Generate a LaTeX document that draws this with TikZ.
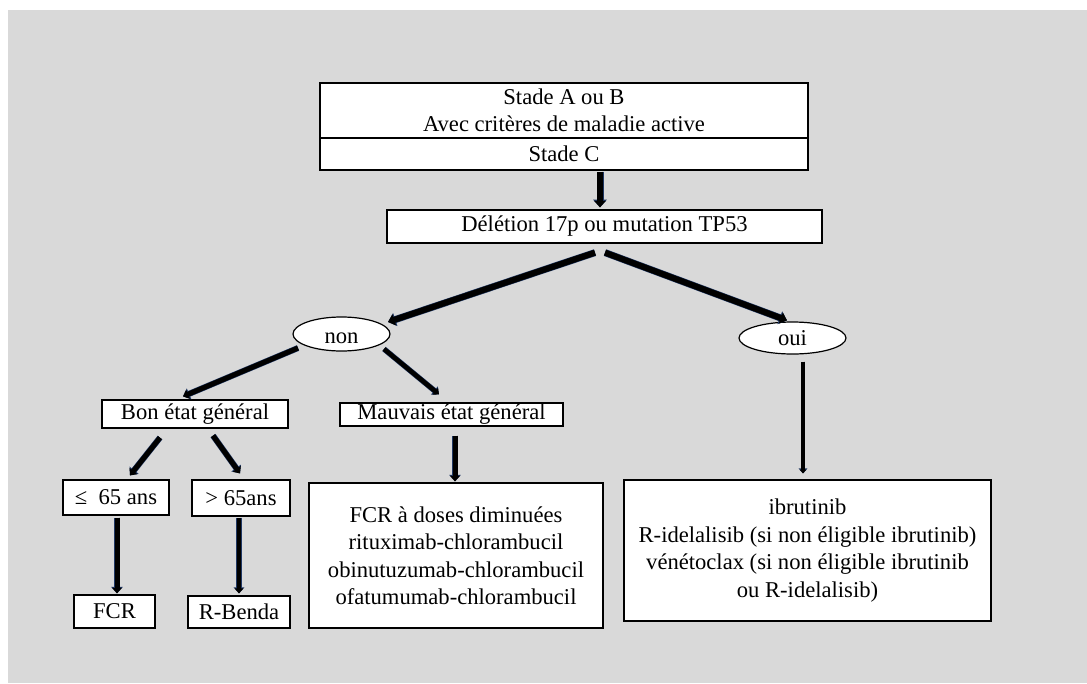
\documentclass[tikz,border=0pt]{standalone}
\usepackage{fontspec}
\setmainfont{Liberation Serif}
\usetikzlibrary{arrows.meta,shapes.geometric,calc}
\definecolor{bggray}{HTML}{D9D9D9}
\definecolor{edgeblue}{HTML}{203864}
\tikzset{
  box/.style={draw=black, line width=1.2pt, fill=white, rectangle, inner sep=0pt, align=center,
    font=\fontsize{22.6}{27.5}\selectfont},
  oval/.style={draw=black, line width=1.2pt, fill=white, ellipse, inner sep=0pt,
    font=\fontsize{22.6}{27.5}\selectfont},
  arr/.style={line width=#1, draw=black, -{Triangle[length=0pt 1.1, width=0pt 1.9]},
    preaction={draw=edgeblue, line width=#1+1pt, -{Triangle[length=0pt 1.1, width=0pt 1.9]}}}
}
\begin{document}
\begin{tikzpicture}[x=1pt,y=-1pt]
\fill[white] (0,0) rectangle (1087,683);
\fill[bggray] (8,10) rectangle (1087,683);
% top boxes
\node[box, minimum width=488pt, minimum height=55pt] (topA) at (564,110.5) {Stade A ou B\\Avec critères de maladie active};
\node[box, minimum width=488pt, minimum height=32pt] (topB) at (564,154) {Stade C};
\node[box, minimum width=435pt, minimum height=33pt] (del) at (604.5,226.5) {Délétion 17p ou mutation TP53};
\node[oval, minimum width=97pt, minimum height=34pt, text height=18pt, text depth=0pt] (non) at (341.5,334) {non};
\node[oval, minimum width=107pt, minimum height=32pt, text height=14pt, text depth=0pt] (oui) at (792.5,338) {oui};
\node[box, minimum width=186pt, minimum height=28pt] (bon) at (195,414) {Bon état général};
\node[box, minimum width=223pt, minimum height=23pt] (mauv) at (451.5,414.5) {Mauvais état général};
\node[box, minimum width=106pt, minimum height=35pt] (le65) at (116,497.5) {≤~ 65 ans};
\node[box, minimum width=98pt, minimum height=36pt] (gt65) at (241,498) {> 65ans};
\node[box, minimum width=81pt, minimum height=33pt] (fcr) at (114.5,611.5) {FCR};
\node[box, minimum width=102pt, minimum height=32pt] (rbenda) at (239,612) {R-Benda};
\node[box, minimum width=294pt, minimum height=145pt] (doses) at (456,555.5) {FCR à doses diminuées\\rituximab-chlorambucil\\obinutuzumab-chlorambucil\\ofatumumab-chlorambucil};
\node[box, minimum width=367pt, minimum height=141pt] (ibru) at (807.5,550.5) {ibrutinib\\R-idelalisib (si non éligible ibrutinib)\\vénétoclax (si non éligible ibrutinib\\ou R-idelalisib)};
% connectors
\draw[arr=6pt] ($(topB.south)+(36,1)$) -- ($(del.north)+(-4.5,-2)$);
\draw[arr=6pt] ($(del.south)+(-9.5,9)$) -- ($(non.center)+(46.5,-12)$);
\draw[arr=6pt] ($(del.south)+(0.5,9)$) -- ($(oui.north)+(-5.5,-1)$);
\draw[arr=5pt] ($(non.center)+(-43.5,14)$) -- ($(bon.north)+(-12,-3)$);
\draw[arr=4.5pt] ($(non.center)+(42.5,15)$) -- ($(mauv.north)+(-12.5,-8)$);
\draw[arr=5pt] ($(bon.south)+(-35,9)$) -- ($(le65.north)+(14,-4)$);
\draw[arr=5pt] ($(bon.south)+(18,7)$) -- ($(gt65.north)+(-1,-6)$);
\draw[arr=5pt] ($(le65.south)+(1,2)$) -- ($(fcr.north)+(2.5,-1)$);
\draw[arr=4.5pt] ($(gt65.south)+(-2,1)$) -- ($(rbenda.north)+(0,-2)$);
\draw[arr=5pt] ($(mauv.south)+(3.5,9)$) -- ($(doses.north)+(-1,-1)$);
\draw[arr=3.5pt] ($(oui.south)+(10.5,7)$) -- ($(ibru.north)+(-4.5,-6)$);
\end{tikzpicture}
\end{document}
